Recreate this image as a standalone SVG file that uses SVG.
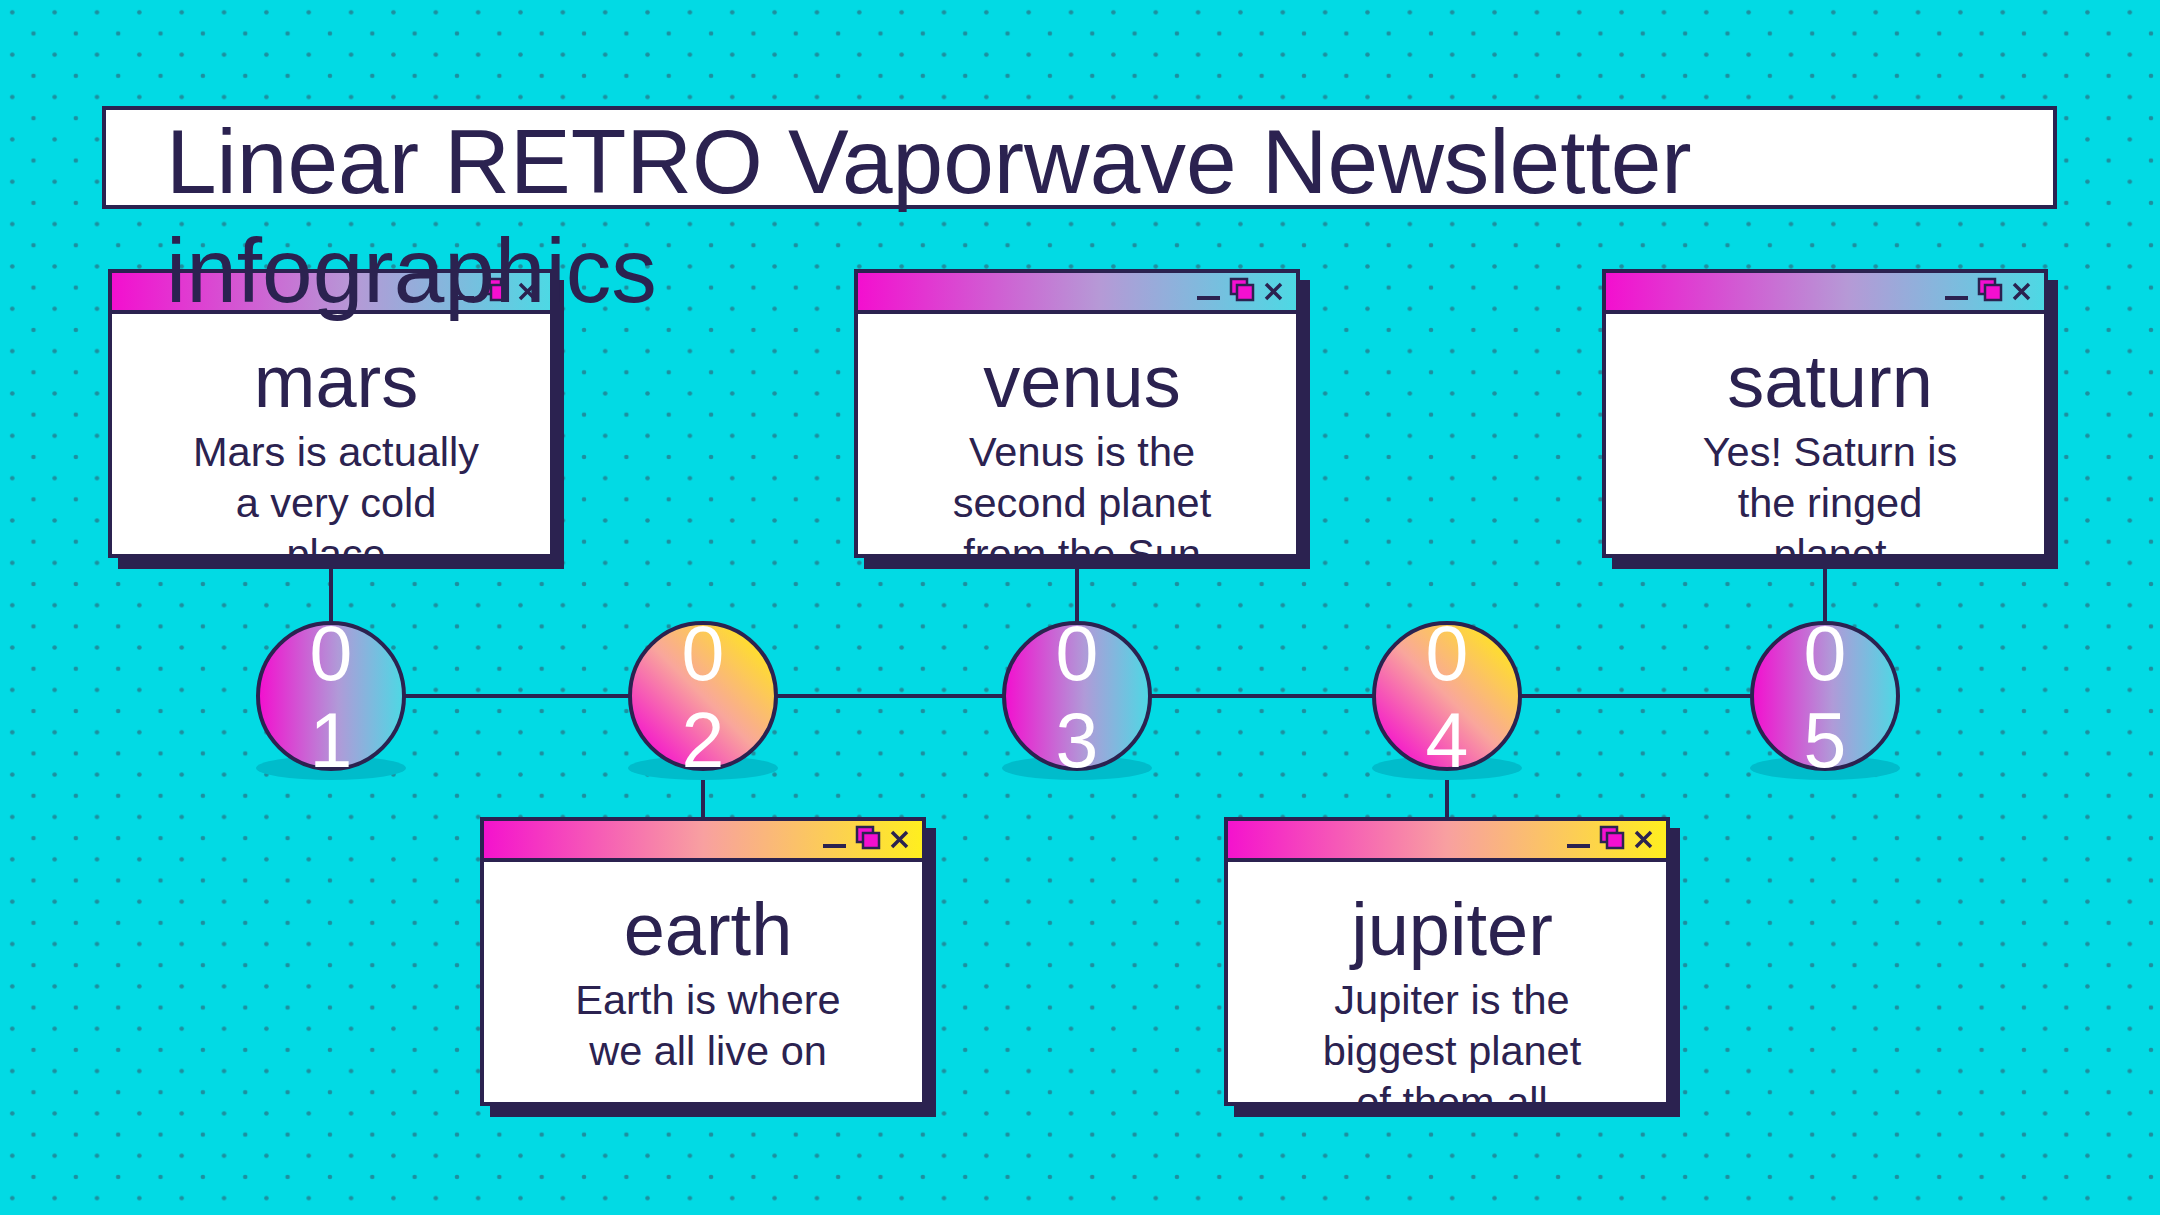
<svg xmlns="http://www.w3.org/2000/svg" width="2160" height="1215" viewBox="0 0 2160 1215">
<defs>
<style>
.dark{fill:#2b2250}
.bord{fill:none;stroke:#2b2250;stroke-width:4}
.ln{stroke:#2b2250;stroke-width:4;fill:none}
.ttl{font-family:"Liberation Sans",Arial,sans-serif;font-size:74px;fill:#2b2250;text-anchor:middle}
.body{font-family:"Liberation Sans",Arial,sans-serif;font-size:41.5px;fill:#2b2250;text-anchor:middle}
.num{font-family:"Liberation Sans",Arial,sans-serif;font-size:77px;fill:#ffffff;text-anchor:middle}
.sq{fill:#f40fd0;stroke:#2b2250;stroke-width:2.5}
.csh{fill:#00bccb}
</style>
<pattern id="dots" width="42.35" height="42.35" patternUnits="userSpaceOnUse">
<circle cx="12.3" cy="12.3" r="2.3" fill="#1d8f9f"/>
<circle cx="33.48" cy="33.48" r="2.3" fill="#1d8f9f"/>
</pattern>
<linearGradient id="gPC" x1="0" y1="0" x2="1" y2="0">
<stop offset="0" stop-color="#f40ecf"/>
<stop offset="0.55" stop-color="#b699d6"/>
<stop offset="1" stop-color="#4cd9e4"/>
</linearGradient>
<linearGradient id="gPY" x1="0" y1="0" x2="1" y2="0">
<stop offset="0" stop-color="#f411ce"/>
<stop offset="0.5" stop-color="#f8a0a0"/>
<stop offset="1" stop-color="#ffef1e"/>
</linearGradient>
<linearGradient id="cPC" x1="0" y1="0" x2="1" y2="0">
<stop offset="0" stop-color="#f40ecf"/>
<stop offset="0.55" stop-color="#b09ad8"/>
<stop offset="1" stop-color="#4cd9e4"/>
</linearGradient>
<linearGradient id="cPY" x1="0.1" y1="0.9" x2="0.9" y2="0.1">
<stop offset="0" stop-color="#f40ecf"/>
<stop offset="0.5" stop-color="#f9a69c"/>
<stop offset="1" stop-color="#ffe51f"/>
</linearGradient>
<clipPath id="bodyClip"><rect x="4" y="45" width="438" height="240"/></clipPath>
<g id="icons">
<line x1="343" y1="29" x2="366" y2="29" stroke="#2b2250" stroke-width="4"/>
<rect class="sq" x="377" y="10" width="16" height="15"/>
<rect class="sq" x="383" y="16" width="16" height="15"/>
<path d="M412 15 L427 30 M427 15 L412 30" stroke="#2b2250" stroke-width="3.5" fill="none"/>
</g>
</defs>

<rect width="2160" height="1215" fill="#02dae4"/>
<rect width="2160" height="1215" fill="url(#dots)"/>

<g id="connectors">
<line class="ln" x1="331" y1="696" x2="1825" y2="696"/>
<line class="ln" x1="331" y1="556" x2="331" y2="624"/>
<line class="ln" x1="1077" y1="556" x2="1077" y2="624"/>
<line class="ln" x1="1825" y1="556" x2="1825" y2="624"/>
<line class="ln" x1="703" y1="768" x2="703" y2="819"/>
<line class="ln" x1="1447" y1="768" x2="1447" y2="819"/>
</g>

<g id="step01">
<ellipse class="csh" cx="331" cy="768" rx="75" ry="12"/>
<circle cx="331" cy="696" r="73" fill="url(#cPC)" stroke="#2b2250" stroke-width="4"/>
<text class="num" x="331" y="680">0</text>
<text class="num" x="331" y="767">1</text>
</g>
<g id="step02">
<ellipse class="csh" cx="703" cy="768" rx="75" ry="12"/>
<circle cx="703" cy="696" r="73" fill="url(#cPY)" stroke="#2b2250" stroke-width="4"/>
<text class="num" x="703" y="680">0</text>
<text class="num" x="703" y="767">2</text>
</g>
<g id="step03">
<ellipse class="csh" cx="1077" cy="768" rx="75" ry="12"/>
<circle cx="1077" cy="696" r="73" fill="url(#cPC)" stroke="#2b2250" stroke-width="4"/>
<text class="num" x="1077" y="680">0</text>
<text class="num" x="1077" y="767">3</text>
</g>
<g id="step04">
<ellipse class="csh" cx="1447" cy="768" rx="75" ry="12"/>
<circle cx="1447" cy="696" r="73" fill="url(#cPY)" stroke="#2b2250" stroke-width="4"/>
<text class="num" x="1447" y="680">0</text>
<text class="num" x="1447" y="767">4</text>
</g>
<g id="step05">
<ellipse class="csh" cx="1825" cy="768" rx="75" ry="12"/>
<circle cx="1825" cy="696" r="73" fill="url(#cPC)" stroke="#2b2250" stroke-width="4"/>
<text class="num" x="1825" y="680">0</text>
<text class="num" x="1825" y="767">5</text>
</g>

<g id="mars" transform="translate(108,269)">
<rect class="dark" x="10" y="11" width="446" height="289"/>
<rect x="2" y="2" width="442" height="285" fill="#ffffff"/>
<rect x="2" y="2" width="442" height="41" fill="url(#gPC)"/>
<line class="ln" x1="2" y1="43" x2="444" y2="43"/>
<use href="#icons"/>
<g clip-path="url(#bodyClip)">
<text class="ttl" x="228" y="138">mars</text>
<text class="body" x="228" y="197">Mars is actually</text>
<text class="body" x="228" y="248">a very cold</text>
<text class="body" x="228" y="299">place</text>
</g>
<rect class="bord" x="2" y="2" width="442" height="285"/>
</g>

<g id="venus" transform="translate(854,269)">
<rect class="dark" x="10" y="11" width="446" height="289"/>
<rect x="2" y="2" width="442" height="285" fill="#ffffff"/>
<rect x="2" y="2" width="442" height="41" fill="url(#gPC)"/>
<line class="ln" x1="2" y1="43" x2="444" y2="43"/>
<use href="#icons"/>
<g clip-path="url(#bodyClip)">
<text class="ttl" x="228" y="138">venus</text>
<text class="body" x="228" y="197">Venus is the</text>
<text class="body" x="228" y="248">second planet</text>
<text class="body" x="228" y="299">from the Sun</text>
</g>
<rect class="bord" x="2" y="2" width="442" height="285"/>
</g>

<g id="saturn" transform="translate(1602,269)">
<rect class="dark" x="10" y="11" width="446" height="289"/>
<rect x="2" y="2" width="442" height="285" fill="#ffffff"/>
<rect x="2" y="2" width="442" height="41" fill="url(#gPC)"/>
<line class="ln" x1="2" y1="43" x2="444" y2="43"/>
<use href="#icons"/>
<g clip-path="url(#bodyClip)">
<text class="ttl" x="228" y="138">saturn</text>
<text class="body" x="228" y="197">Yes! Saturn is</text>
<text class="body" x="228" y="248">the ringed</text>
<text class="body" x="228" y="299">planet</text>
</g>
<rect class="bord" x="2" y="2" width="442" height="285"/>
</g>

<g id="earth" transform="translate(480,817)">
<rect class="dark" x="10" y="11" width="446" height="289"/>
<rect x="2" y="2" width="442" height="285" fill="#ffffff"/>
<rect x="2" y="2" width="442" height="41" fill="url(#gPY)"/>
<line class="ln" x1="2" y1="43" x2="444" y2="43"/>
<use href="#icons"/>
<g clip-path="url(#bodyClip)">
<text class="ttl" x="228" y="138">earth</text>
<text class="body" x="228" y="197">Earth is where</text>
<text class="body" x="228" y="248">we all live on</text>
</g>
<rect class="bord" x="2" y="2" width="442" height="285"/>
</g>

<g id="jupiter" transform="translate(1224,817)">
<rect class="dark" x="10" y="11" width="446" height="289"/>
<rect x="2" y="2" width="442" height="285" fill="#ffffff"/>
<rect x="2" y="2" width="442" height="41" fill="url(#gPY)"/>
<line class="ln" x1="2" y1="43" x2="444" y2="43"/>
<use href="#icons"/>
<g clip-path="url(#bodyClip)">
<text class="ttl" x="228" y="138">jupiter</text>
<text class="body" x="228" y="197">Jupiter is the</text>
<text class="body" x="228" y="248">biggest planet</text>
<text class="body" x="228" y="299">of them all</text>
</g>
<rect class="bord" x="2" y="2" width="442" height="285"/>
</g>

<g id="title">
<rect x="104" y="108" width="1951" height="99" fill="#ffffff" stroke="#2b2250" stroke-width="4"/>
<text x="166" y="193" font-family="Liberation Sans, Arial, sans-serif" font-size="91" fill="#2b2250">Linear RETRO Vaporwave Newsletter</text>
<text x="166" y="302" font-family="Liberation Sans, Arial, sans-serif" font-size="91" fill="#2b2250">infographics</text>
</g>
</svg>
